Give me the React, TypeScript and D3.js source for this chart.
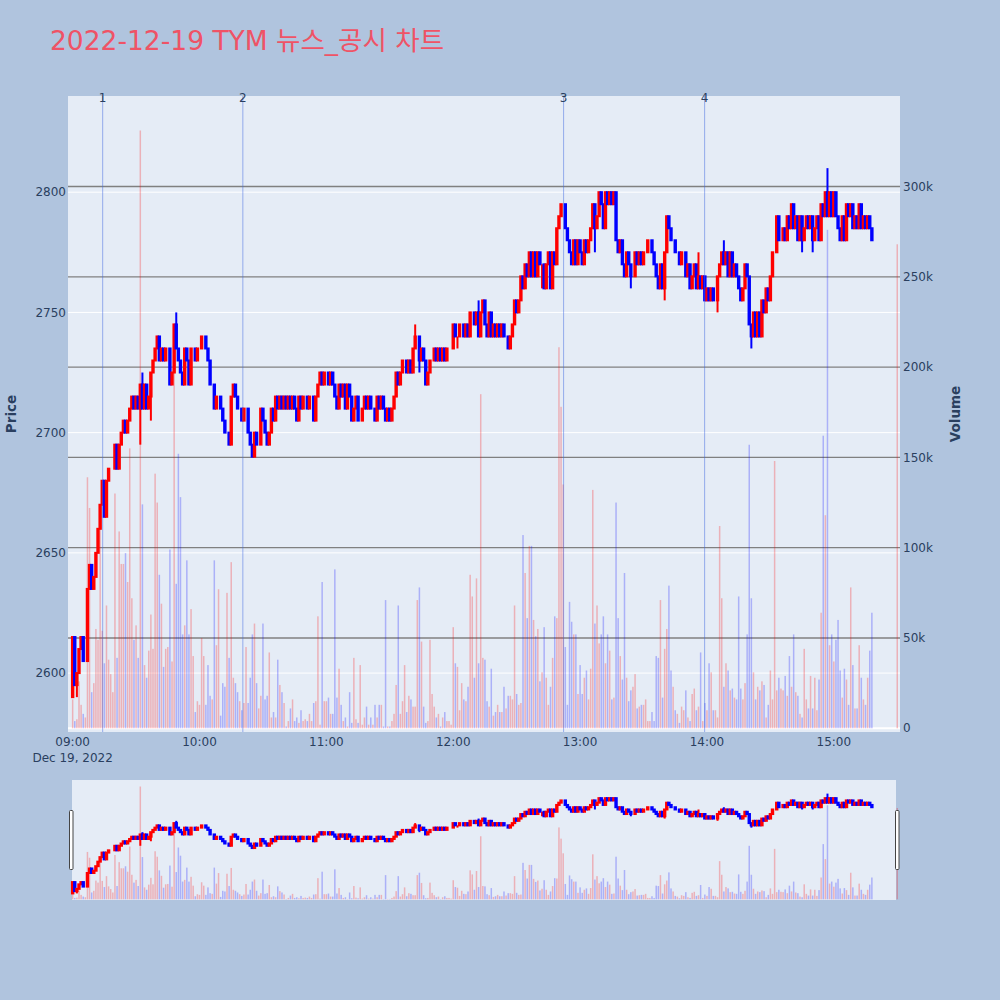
import React from 'react';
import * as d3 from 'd3';

const CHART_TITLE = '2022-12-19 TYM 뉴스_공시 차트';

// minute closes, 09:00 = minute 0
const close09 = [
  2615, 2595, 2600, 2610, 2615, 2605, 2605, 2635, 2645, 2635,
  2640, 2650, 2660, 2670, 2680, 2665, 2680, 2685, 2685, 2685,
  2695, 2685, 2695, 2700, 2705, 2700, 2705, 2710, 2715, 2710,
  2715, 2710, 2720, 2710, 2720, 2710, 2715, 2725, 2730, 2735,
  2740, 2730, 2735, 2730, 2735, 2735, 2720, 2725, 2745, 2735,
  2730, 2725, 2720, 2735, 2730, 2720, 2735, 2735, 2730, 2735,
];
const close10 = [
  2735, 2740, 2740, 2735, 2730, 2720, 2720, 2710, 2715, 2715,
  2710, 2705, 2700, 2700, 2695, 2715, 2720, 2715, 2710, 2710,
  2705, 2710, 2710, 2700, 2695, 2690, 2700, 2695, 2695, 2710,
  2705, 2700, 2695, 2700, 2710, 2705, 2715, 2710, 2715, 2710,
  2715, 2710, 2715, 2710, 2715, 2710, 2705, 2715, 2710, 2715,
  2715, 2710, 2715, 2715, 2705, 2715, 2720, 2725, 2720, 2725,
];
const close11 = [
  2725, 2720, 2725, 2720, 2715, 2710, 2720, 2715, 2720, 2710,
  2720, 2715, 2705, 2710, 2715, 2705, 2705, 2710, 2715, 2710,
  2715, 2710, 2710, 2705, 2715, 2710, 2715, 2710, 2705, 2710,
  2705, 2710, 2715, 2725, 2720, 2725, 2730, 2730, 2725, 2730,
  2725, 2735, 2740, 2740, 2730, 2735, 2730, 2720, 2725, 2730,
  2730, 2735, 2730, 2735, 2730, 2735, 2730, 2735, 2735, 2735,
];
const close12 = [
  2745, 2740, 2740, 2745, 2745, 2740, 2745, 2740, 2750, 2750,
  2745, 2750, 2740, 2750, 2755, 2745, 2740, 2750, 2740, 2745,
  2740, 2745, 2740, 2745, 2740, 2740, 2735, 2740, 2745, 2755,
  2750, 2755, 2765, 2760, 2770, 2765, 2775, 2765, 2775, 2765,
  2775, 2770, 2770, 2760, 2770, 2775, 2760, 2775, 2770, 2785,
  2790, 2795, 2795, 2785, 2780, 2775, 2770, 2780, 2770, 2780,
];
const close13 = [
  2775, 2770, 2780, 2775, 2780, 2785, 2795, 2785, 2790, 2800,
  2795, 2785, 2800, 2795, 2800, 2795, 2800, 2780, 2775, 2780,
  2770, 2765, 2775, 2770, 2765, 2765, 2775, 2770, 2775, 2770,
  2775, 2775, 2780, 2780, 2775, 2770, 2765, 2760, 2770, 2760,
  2775, 2790, 2785, 2780, 2780, 2775, 2775, 2770, 2775, 2775,
  2765, 2770, 2760, 2765, 2770, 2760, 2765, 2760, 2765, 2755,
];
const close14 = [
  2760, 2755, 2760, 2755, 2755, 2765, 2770, 2775, 2770, 2775,
  2765, 2775, 2765, 2770, 2765, 2760, 2755, 2760, 2770, 2765,
  2745, 2740, 2750, 2740, 2750, 2740, 2755, 2750, 2760, 2755,
  2765, 2775, 2775, 2790, 2780, 2780, 2785, 2780, 2790, 2785,
  2795, 2785, 2790, 2780, 2790, 2780, 2785, 2790, 2785, 2790,
  2780, 2785, 2790, 2780, 2795, 2790, 2800, 2790, 2800, 2790,
];
const close15 = [
  2800, 2790, 2785, 2780, 2790, 2780, 2795, 2790, 2795, 2785,
  2790, 2785, 2795, 2785, 2790, 2785, 2790, 2785, 2780,
];

// minute volumes, thousands of shares
const vol09 = [
  16, 4, 5, 26, 13, 8, 6, 139, 122, 20,
  25, 55, 49, 121, 54, 36, 68, 38, 30, 20,
  130, 39, 109, 91, 91, 97, 81, 155, 72, 49,
  57, 39, 331, 124, 35, 28, 43, 63, 44, 141,
  125, 85, 69, 34, 44, 45, 99, 37, 200, 80,
  152, 128, 52, 57, 93, 52, 66, 40, 9, 15,
];
const vol10 = [
  13, 50, 40, 13, 35, 18, 16, 93, 46, 77,
  7, 25, 23, 75, 39, 92, 28, 25, 20, 15,
  10, 14, 45, 14, 28, 52, 58, 25, 11, 18,
  58, 16, 18, 42, 6, 9, 6, 38, 24, 20,
  14, 1, 4, 11, 16, 4, 6, 3, 10, 4,
  5, 4, 8, 4, 14, 15, 62, 2, 81, 15,
];
const vol11 = [
  15, 17, 8, 8, 88, 17, 33, 13, 4, 6,
  1, 20, 3, 39, 5, 3, 35, 2, 6, 12,
  2, 6, 2, 13, 6, 13, 13, 1, 71, 1,
  1, 4, 8, 24, 68, 8, 15, 35, 9, 18,
  16, 12, 12, 71, 78, 48, 12, 3, 4, 49,
  19, 12, 6, 8, 1, 6, 9, 4, 4, 2,
];
const vol12 = [
  56, 36, 34, 10, 25, 16, 15, 23, 85, 73,
  28, 83, 36, 185, 39, 38, 15, 12, 33, 7,
  9, 13, 9, 9, 23, 11, 18, 18, 16, 68,
  19, 13, 14, 107, 86, 61, 101, 101, 60, 51,
  55, 26, 31, 56, 28, 13, 23, 39, 62, 61,
  211, 178, 135, 45, 13, 70, 59, 52, 52, 19,
];
const vol13 = [
  35, 19, 28, 32, 16, 33, 132, 58, 68, 47,
  52, 62, 36, 52, 43, 16, 17, 125, 61, 40,
  27, 86, 28, 15, 21, 23, 30, 11, 12, 13,
  13, 16, 4, 4, 9, 4, 40, 39, 71, 17,
  44, 55, 79, 32, 23, 10, 8, 3, 12, 10,
  21, 6, 4, 19, 22, 10, 12, 42, 4, 14,
];
const vol14 = [
  10, 36, 31, 10, 10, 6, 112, 72, 23, 36,
  32, 21, 22, 17, 16, 73, 22, 16, 25, 52,
  157, 72, 31, 16, 23, 21, 26, 24, 6, 13,
  32, 16, 148, 21, 28, 22, 21, 29, 18, 40,
  23, 52, 20, 18, 8, 6, 44, 16, 11, 29,
  11, 28, 10, 27, 64, 162, 118, 276, 46, 52,
];
const vol15 = [
  37, 49, 60, 32, 17, 33, 27, 13, 78, 35,
  11, 11, 46, 28, 16, 13, 28, 43, 64,
];

const firstOpen = 2590;
const wickHigh: [number, number][] = [
  [33, 2725], [49, 2750], [162, 2745], [192, 2755], [296, 2775], [308, 2780], [357, 2810],
];
const wickLow: [number, number][] = [
  [2, 2590], [32, 2695], [37, 2705], [164, 2725], [182, 2735], [222, 2760], [247, 2775],
  [264, 2760], [280, 2755], [305, 2750], [321, 2735], [345, 2775], [350, 2775],
];
// closing auction at 15:30
const auction = { minute: 390, price: 2795, volume: 268 };

const newsEvents = [
  { label: '1', minute: 14.2 },
  { label: '2', minute: 80.5 },
  { label: '3', minute: 232.2 },
  { label: '4', minute: 298.9 },
];

const priceTicks = [2600, 2650, 2700, 2750, 2800];
const volumeTicks = [0, 50, 100, 150, 200, 250, 300];
const timeTicks = ['09:00', '10:00', '11:00', '12:00', '13:00', '14:00', '15:00'];

const RED = '#ff0000';
const BLUE = '#0000ff';
const TXT = '#2a3f5f';
const FONT = "'DejaVu Sans', Verdana, 'Noto Sans CJK KR', sans-serif";

const closes = [...close09, ...close10, ...close11, ...close12, ...close13, ...close14, ...close15];
const volumes = [...vol09, ...vol10, ...vol11, ...vol12, ...vol13, ...vol14, ...vol15];

type Candle = { m: number; o: number; h: number; l: number; c: number; v: number; up: boolean };

const candles: Candle[] = closes.map((c, i) => {
  const o = i === 0 ? firstOpen : closes[i - 1];
  const hi = wickHigh.find(w => w[0] === i);
  const lo = wickLow.find(w => w[0] === i);
  return {
    m: i, o, c,
    h: Math.max(o, c, hi ? hi[1] : -Infinity),
    l: Math.min(o, c, lo ? lo[1] : Infinity),
    v: volumes[i] ?? 0,
    up: c >= o,
  };
});
candles.push({
  m: auction.minute, o: auction.price, c: auction.price, h: auction.price, l: auction.price,
  v: auction.volume, up: true,
});

const plot = { l: 68, r: 900, t: 96, b: 732 };
const slider = { l: 72, r: 896, t: 780, b: 900 };

const x = d3.scaleLinear().domain([-2.2, 391.3]).range([plot.l, plot.r]);
const yP = d3.scaleLinear().domain([2575.5, 2840]).range([plot.b, plot.t]);
const yV = d3.scaleLinear().domain([-2.05, 350.1]).range([plot.b, plot.t]);
const yPs = d3.scaleLinear().domain([2575.5, 2840]).range([slider.b, slider.t]);
const yVs = d3.scaleLinear().domain([-2.05, 350.1]).range([slider.b, slider.t]);

function VolumeBars({ y }: { y: d3.ScaleLinear<number, number> }) {
  return (
    <g>
      {candles.map(d => (
        <rect
          key={d.m}
          x={x(d.m) - 0.75}
          y={y(d.v)}
          width={1.5}
          height={Math.max(0, y(0) - y(d.v))}
          fill={d.up ? 'rgba(255,0,0,0.25)' : 'rgba(0,0,255,0.25)'}
        />
      ))}
    </g>
  );
}

function Candles({ y, bw }: { y: d3.ScaleLinear<number, number>; bw: number }) {
  return (
    <g>
      {candles.map(d => {
        const cx = x(d.m);
        const top = y(Math.max(d.o, d.c));
        const bot = y(Math.min(d.o, d.c));
        const col = d.up ? RED : BLUE;
        return (
          <g key={d.m}>
            <line x1={cx} x2={cx} y1={y(d.h)} y2={y(d.l)} stroke={col} strokeWidth={2} />
            <rect x={cx - bw / 2} y={top} width={bw} height={bot - top} fill={col} stroke={col} strokeWidth={2} />
          </g>
        );
      })}
    </g>
  );
}

export default function App() {
  return (
    <svg width={1000} height={1000} style={{ position: 'absolute', left: 0, top: 0 }} fontFamily={FONT}>
      <defs>
        <clipPath id="mainClip">
          <rect x={plot.l} y={plot.t} width={plot.r - plot.l} height={plot.b - plot.t} />
        </clipPath>
        <clipPath id="sliderClip">
          <rect x={plot.l} y={slider.t} width={plot.r - plot.l} height={slider.b - slider.t} />
        </clipPath>
      </defs>
      <rect width={1000} height={1000} fill="#b0c4de" />

      <text x={50} y={50} fontSize={26.5} fill="#ef5366">{CHART_TITLE}</text>

      {/* main plot */}
      <rect x={plot.l} y={plot.t} width={plot.r - plot.l} height={plot.b - plot.t} fill="#e5ecf6" />
      {priceTicks.map(t => (
        <line key={t} x1={plot.l} x2={plot.r} y1={yP(t)} y2={yP(t)} stroke="#fff" strokeWidth={1} />
      ))}
      {volumeTicks.filter(t => t > 0).map(t => (
        <line key={t} x1={plot.l} x2={plot.r} y1={yV(t)} y2={yV(t)} stroke="#808080" strokeWidth={1.3} />
      ))}
      <line x1={plot.l} x2={plot.r} y1={yV(0)} y2={yV(0)} stroke="#fff" strokeWidth={2} />

      <g clipPath="url(#mainClip)">
        <VolumeBars y={yV} />
        <Candles y={yP} bw={1.4} />
        {newsEvents.map(e => (
          <line key={e.label} x1={x(e.minute)} x2={x(e.minute)} y1={plot.t} y2={plot.b}
            stroke="royalblue" strokeOpacity={0.5} strokeWidth={1} />
        ))}
      </g>
      {newsEvents.map(e => (
        <text key={e.label} x={x(e.minute)} y={102} fontSize={12} fill={TXT} textAnchor="middle">{e.label}</text>
      ))}

      {/* axes */}
      {priceTicks.map(t => (
        <text key={t} x={66} y={yP(t)} dy="0.35em" fontSize={12} fill={TXT} textAnchor="end">{t}</text>
      ))}
      {volumeTicks.map(t => (
        <text key={t} x={903} y={yV(t)} dy="0.35em" fontSize={12} fill={TXT}>{t === 0 ? '0' : `${t}k`}</text>
      ))}
      {timeTicks.map((t, i) => (
        <text key={t} x={x(i * 60)} y={745.5} fontSize={12} fill={TXT} textAnchor="middle">{t}</text>
      ))}
      <text x={x(0)} y={761.5} fontSize={12} fill={TXT} textAnchor="middle">Dec 19, 2022</text>
      <text transform={`translate(15.5,${(plot.t + plot.b) / 2}) rotate(-90)`} fontSize={13.5} fontWeight="bold"
        fill={TXT} textAnchor="middle">Price</text>
      <text transform={`translate(960,${(plot.t + plot.b) / 2}) rotate(-90)`} fontSize={13.5} fontWeight="bold"
        fill={TXT} textAnchor="middle">Volume</text>

      {/* range slider */}
      <rect x={slider.l} y={slider.t} width={slider.r - slider.l} height={slider.b - slider.t} fill="#e5ecf6" />
      <g clipPath="url(#sliderClip)">
        <VolumeBars y={yVs} />
        <Candles y={yPs} bw={1.4} />
      </g>
      <rect x={69.5} y={810.5} width={3.5} height={59} rx={1} fill="#fff" stroke="#444" strokeWidth={1} />
      <rect x={895.5} y={810.5} width={3.5} height={59} rx={1} fill="#fff" stroke="#444" strokeWidth={1} />
    </svg>
  );
}
